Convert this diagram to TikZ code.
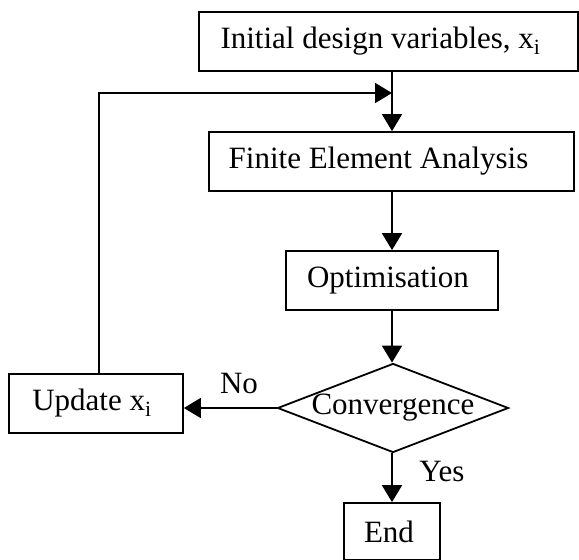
\documentclass[tikz,border=0pt]{standalone}
\usepackage{fontspec}
\setmainfont{Liberation Serif}
\usetikzlibrary{arrows.meta,shapes.geometric}
\begin{document}
\begin{tikzpicture}[x=1pt,y=-1pt,
  every node/.style={font=\fontsize{31}{36}\selectfont},
  box/.style={draw, line width=1.8pt, inner sep=0pt, rectangle},
  flow/.style={line width=1.8pt, -{Triangle[length=17pt,width=20pt]}},
  plain/.style={line width=1.8pt}]
\useasboundingbox (0,0) rectangle (579,560);
\node[box, minimum width=379pt, minimum height=59pt] (init) at (388.5,41.5) {Initial design variables, x\textsubscript{i}\hspace*{16pt}};
\node[box, minimum width=365pt, minimum height=59pt] (fea) at (391.5,161.5) {Finite Element Analysis\hspace*{26pt}};
\node[box, minimum width=212pt, minimum height=59pt] (opt) at (392,280.5) {Optimisation\hspace*{8pt}};
\node[diamond, draw, line width=1.8pt, inner sep=0pt, minimum width=231pt, minimum height=89pt,
      label={[font=\fontsize{31}{36}\selectfont]center:Convergence}] (conv) at (393,408) {};
\node[box, minimum width=174pt, minimum height=59pt] (upd) at (96,403.5) {Update x\textsubscript{i}\hspace*{8pt}};
\node[box, minimum width=96pt, minimum height=57pt] (end) at (392,531.5) {End\hspace*{6pt}};
\node (no) at (239,383) {No};
\node (yes) at (442,471) {Yes};
\coordinate (join) at (392,93);
\coordinate (fb) at (99,93);
\draw[flow] (init.south -| join) -- (fea.north -| join);
\draw[flow] (upd.north -| fb) -- (fb) -- (join);
\draw[flow] (fea.south -| join) -- (opt.north -| join);
\draw[flow] (opt.south -| join) -- (conv.north -| join);
\draw[flow] (conv.west) -- (conv.west -| upd.east);
\draw[flow] (conv.south -| join) -- (end.north -| join);
\end{tikzpicture}
\end{document}
